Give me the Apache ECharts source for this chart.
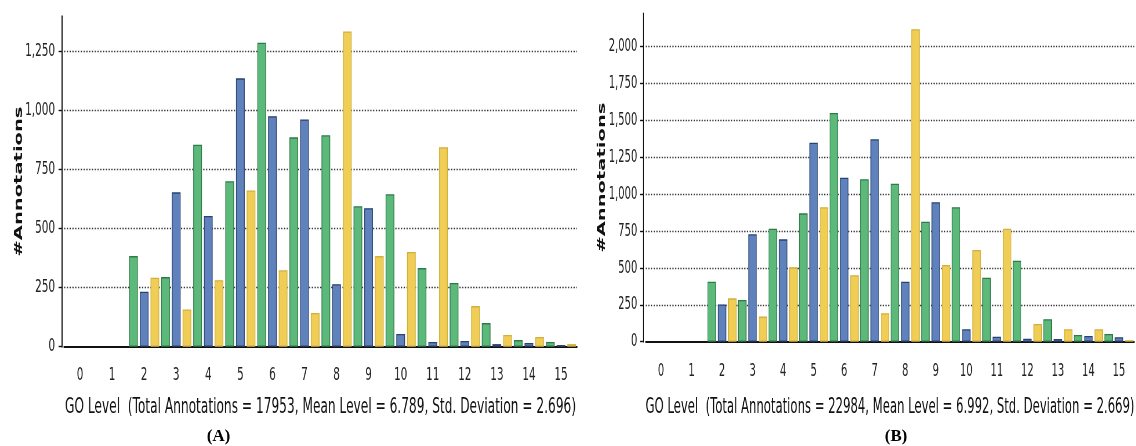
<!DOCTYPE html>
<html><head><meta charset="utf-8">
<script src="https://cdn.jsdelivr.net/npm/echarts@6/dist/echarts.min.js"></script>
<style>
html,body{margin:0;padding:0;width:1136px;height:446px;overflow:hidden;background:#fff}
.panel{position:absolute;top:0;height:446px;transform-origin:0 0}
</style></head><body>
<div id="pa" class="panel"></div>
<div id="pb" class="panel"></div>
<script>
// ---------- data ----------
const levels = ['0','1','2','3','4','5','6','7','8','9','10','11','12','13','14','15'];

const aGreen  = [null,null,384,295,856,701,1288,887,896,595,646,333,270,100,28,20];
const aBlue   = [null,null,233,654,554,1137,977,963,265,587,54,20,24,11,16,7];
const aYellow = [null,null,292,158,282,662,324,143,1336,384,401,845,172,50,41,11];

const bGreen  = [null,null,407,283,766,870,1550,1101,1071,814,911,434,549,152,45,52];
const bBlue   = [null,null,253,728,694,1349,1111,1372,407,945,84,34,20,18,39,30];
const bYellow = [null,null,294,170,504,911,450,193,2118,520,622,766,120,84,84,10];

const aTitle = 'GO Level  (Total Annotations = 17953, Mean Level = 6.789, Std. Deviation = 2.696)';
const bTitle = 'GO Level  (Total Annotations = 22984, Mean Level = 6.992, Std. Deviation = 2.669)';
const yName = '#Annotations';
const aTag = '(A)';
const bTag = '(B)';
const yStep = 250;
const aYMax = 1400;
const bYMax = 2225;

// ---------- layout (page px) ----------
const FONT = 'DejaVu Sans';
const colors = {
  green:  {fill:'#5cb97a', border:'#2f7a4a'},
  blue:   {fill:'#5f82bd', border:'#2b4270'},
  yellow: {fill:'#f0cd55', border:'#d2b040'}
};

function build(id, c) {
  const el = document.getElementById(id);
  const s = c.s;
  const w = (c.pageRight - c.pageLeft) / s;
  el.style.left = c.pageLeft + 'px';
  el.style.width = w + 'px';
  el.style.transform = 'scaleX(' + s + ')';
  const ix = p => (p - c.pageLeft) / s;
  const chart = echarts.init(el, null, {renderer: 'canvas'});
  const mk = (name, data, col) => ({
    name, type: 'bar', data,
    barWidth: c.barW / s, barGap: '23%',
    itemStyle: {color: col.fill, borderColor: col.border, borderWidth: 1.3},
    emphasis: {disabled: true}, animation: false
  });
  chart.setOption({
    animation: false,
    grid: {left: ix(c.gridL), width: (c.gridR - c.gridL) / s, top: c.top, bottom: 446 - c.zeroY, containLabel: false},
    xAxis: {
      type: 'category', data: levels, offset: c.xLineY - c.zeroY,
      axisLine: {lineStyle: {color: '#111', width: 2}},
      axisTick: {alignWithLabel: true, length: 5, lineStyle: {color: '#111', width: 1.6}},
      axisLabel: {color: '#222', fontFamily: FONT, fontSize: 18, margin: c.xLabMargin},
      name: c.title, nameLocation: 'middle', nameGap: c.nameGap, nameMoveOverlap: false,
      nameTextStyle: {color: '#111', fontFamily: FONT, fontSize: 21}
    },
    yAxis: {
      type: 'value', min: 0, max: c.yMax, interval: yStep, offset: (c.gridL - c.yLineX) / s,
      axisLine: {show: true, lineStyle: {color: '#111', width: 2}},
      axisTick: {show: true, length: 6, lineStyle: {color: '#111', width: 1.4}},
      axisLabel: {color: '#222', fontFamily: FONT, fontSize: 18, margin: (c.yLineX - c.yLabRight) / s,
                  showMaxLabel: false, formatter: v => v.toLocaleString('en-US')},
      splitLine: {show: true, showMinLine: false, showMaxLine: false,
                  lineStyle: {color: '#333', width: 1.3, type: [2.2, 2.6]}},
      name: yName, nameLocation: 'middle', nameGap: c.yNameGap, nameMoveOverlap: false,
      nameTextStyle: {color: '#111', fontFamily: FONT, fontSize: 19.5, fontWeight: 'bold'}
    },
    graphic: [{
      type: 'text', x: ix(c.tagX), y: 437, scaleX: 1 / s, silent: true,
      style: {text: c.tag, fill: '#000', font: 'bold 17px "Liberation Serif"', textAlign: 'center', textVerticalAlign: 'middle'}
    }],
    series: [mk('g', c.g, colors.green), mk('b', c.b, colors.blue), mk('y', c.y, colors.yellow)]
  });
}

build('pa', {s: 0.58, pageLeft: 0, pageRight: 590, gridL: 64, gridR: 577, top: 16.3, zeroY: 346.7,
  xLineY: 353.3, yLineX: 62, yLabRight: 55, yMax: aYMax, barW: 8.7, xLabMargin: 13.5, nameGap: 44,
  yNameGap: 64, title: aTitle, tag: aTag, tagX: 218.5, g: aGreen, b: aBlue, y: aYellow});

build('pb', {s: 0.555, pageLeft: 590, pageRight: 1136, gridL: 645.7, gridR: 1137, top: 13.5, zeroY: 341.7,
  xLineY: 348.7, yLineX: 643.3, yLabRight: 637.3, yMax: bYMax, barW: 8.4, xLabMargin: 13.5, nameGap: 48,
  yNameGap: 64, title: bTitle, tag: bTag, tagX: 896, g: bGreen, b: bBlue, y: bYellow});
</script>
</body></html>
